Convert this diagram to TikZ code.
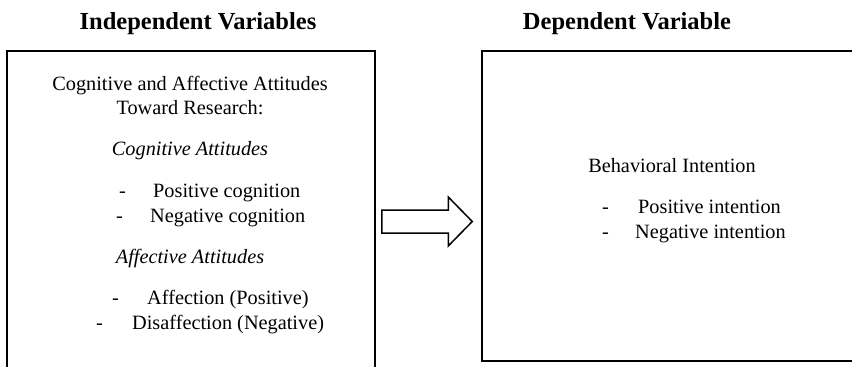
\documentclass[tikz,border=0pt]{standalone}
\usepackage{fontspec}
\setmainfont{Liberation Serif}
\usetikzlibrary{positioning, calc}
\tikzstyle{varbox} = [draw, rectangle, line width=1.5pt, inner sep=0pt]
\tikzstyle{heading} = [font=\fontsize{24.5}{28}\selectfont\bfseries, anchor=base, inner sep=0pt]
\tikzstyle{txt} = [font=\fontsize{20.3}{24}\selectfont, anchor=base, inner sep=0pt]
\tikzstyle{item} = [txt, anchor=base west]
\newcommand{\dashitem}[2]{\makebox[#1pt][l]{-}#2}

\begin{document}
\begin{tikzpicture}[x=1pt, y=-1pt, >=latex]
    \useasboundingbox (0,0) rectangle (852,367);
    \clip (0,0) rectangle (852,367);
    % the two boxes, both run past the page edge
    \node [varbox, minimum width=368pt, minimum height=350pt] (ivbox) at (191,226) {};
    \node [varbox, minimum width=428pt, minimum height=310pt] (dvbox) at (696,206) {};
    \node [heading] (ivhead) at (198,29.5) {Independent Variables};
    \node [heading] (dvhead) at (627,29.5) {Dependent Variable};
    % left box
    \node [txt] (cogaff) at (190,90) {Cognitive and Affective Attitudes};
    \node [txt] (toward) at (190,114) {Toward Research:};
    \node [txt] (cogatt) at (190,155) {\itshape Cognitive Attitudes};
    \node [item] (poscog) at (119,197) {\dashitem{34}{Positive cognition}};
    \node [item] (negcog) at (116,222) {\dashitem{34}{Negative cognition}};
    \node [txt] (affatt) at (190,263) {\itshape Affective Attitudes};
    \node [item] (affpos) at (112,304) {\dashitem{35}{Affection (Positive)}};
    \node [item] (affneg) at (96,329) {\dashitem{36}{Disaffection (Negative)}};
    % right box
    \node [txt] (behint) at (672,172) {Behavioral Intention};
    \node [item] (posint) at (602,213) {\dashitem{36}{Positive intention}};
    \node [item] (negint) at (602,238) {\dashitem{33}{Negative intention}};
    % block arrow between the boxes
    \coordinate (tail) at ($(ivbox.east |- 0,221.5)+(6,0)$);
    \coordinate (tip) at ($(dvbox.west |- 0,221.5)+(-9,0)$);
    \draw [line width=1.5pt, fill=white, line join=miter]
        ($(tail)+(0,-11.5)$) -- ($(tip)+(-24,-11.5)$) -- ($(tip)+(-24,-24.5)$) -- (tip)
        -- ($(tip)+(-24,24.5)$) -- ($(tip)+(-24,11.5)$) -- ($(tail)+(0,11.5)$) -- cycle;
\end{tikzpicture}
\end{document}
